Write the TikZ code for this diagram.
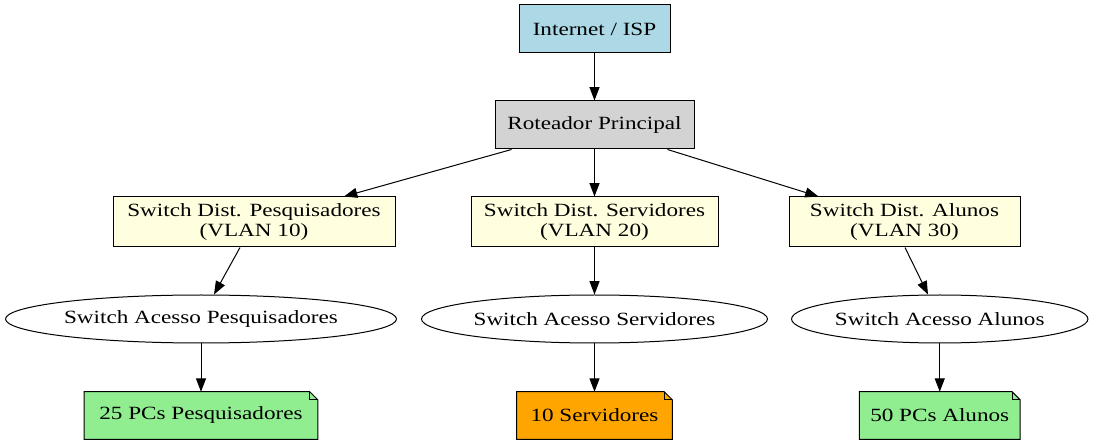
\documentclass[tikz,border=0pt]{standalone}
\usepackage{fontspec}
\setmainfont[FakeStretch=1.24]{Liberation Serif}
\usetikzlibrary{arrows.meta,shapes.geometric,calc}
\tikzset{
  box/.style={rectangle, draw, line width=0.75pt, minimum height=36pt, inner sep=0pt, align=center},
  dbox/.style={box, fill=lyellow, minimum height=37.5pt},
  enode/.style={ellipse, draw, line width=0.75pt, minimum height=36pt, inner sep=0pt},
  note/.style={rectangle, minimum height=35.25pt, inner sep=0pt},
  link/.style={-{Triangle[length=10pt, width=7.5pt]}, line width=0.75pt},
}
\definecolor{lblue}{HTML}{ADD8E6}
\definecolor{lgray}{HTML}{D3D3D3}
\definecolor{lyellow}{HTML}{FFFFE0}
\definecolor{lgreen}{HTML}{90EE90}
\definecolor{orng}{HTML}{FFA500}
\begin{document}
\begin{tikzpicture}[x=0.75pt, y=-0.75pt, font=\fontsize{14}{15.5}\selectfont]
  \useasboundingbox (0,0) rectangle (1093,445);

  % top
  \node[box, fill=lblue, minimum width=113.25pt] (isp) at (594.5,29) {Internet / ISP};
  \node[box, fill=lgray, minimum width=149.25pt] (rot) at (594.5,125) {Roteador Principal};

  % distribution switches
  \node[dbox, minimum width=211.5pt] (dpesq) at (254,222) {Switch Dist. Pesquisadores\\(VLAN 10)};
  \node[dbox, minimum width=185.25pt] (dserv) at (594.5,222) {Switch Dist. Servidores\\(VLAN 20)};
  \node[dbox, minimum width=173.25pt] (dalun) at (904.5,222) {Switch Dist. Alunos\\(VLAN 30)};

  % access switches
  \node[enode, minimum width=293.25pt] (apesq) at (201,319) {Switch Acesso Pesquisadores};
  \node[enode, minimum width=259.5pt] (aserv) at (594.5,319) {Switch Acesso Servidores};
  \node[enode, minimum width=221.25pt] (aalun) at (939.75,319) {Switch Acesso Alunos};

  % end devices
  \node[note, minimum width=174.75pt] (pcpesq) at (201,415.5) {};
  \node[note, minimum width=116.25pt] (srv) at (594.5,415.5) {};
  \node[note, minimum width=120pt] (pcalun) at (939.75,415.5) {};

  % note outlines with folded corner
  \foreach \n/\c in {pcpesq/lgreen, srv/orng, pcalun/lgreen} {
    \draw[line width=0.75pt, fill=\c] (\n.south west) |- ([xshift=-6pt]\n.north east)
      -- ([yshift=-6pt]\n.north east) |- cycle;
    \draw[line width=0.75pt] ([xshift=-6pt]\n.north east) |- ([yshift=-6pt]\n.north east);
  }
  \node at (pcpesq) {25 PCs Pesquisadores};
  \node at (srv) {10 Servidores};
  \node at (pcalun) {50 PCs Alunos};

  % links
  \draw[link] (isp) -- (rot);
  \draw[link] ($(rot.south west)+(17,0)$) -- ($(dpesq.north)+(90,0)$);
  \draw[link] (rot) -- (dserv);
  \draw[link] ($(rot.south east)+(-27,0)$) -- ($(dalun.north)+(-86,0)$);
  \draw[link] ($(dpesq.south)+(-14,0)$) -- ($(apesq.north)+(13,0)$);
  \draw[link] (dserv) -- (aserv);
  \draw[link] ($(dalun.south)+(0.5,0)$) -- ($(aalun.north)+(-11.75,0)$);
  \draw[link] (apesq) -- (pcpesq);
  \draw[link] (aserv) -- (srv);
  \draw[link] (aalun) -- (pcalun);
\end{tikzpicture}
\end{document}
